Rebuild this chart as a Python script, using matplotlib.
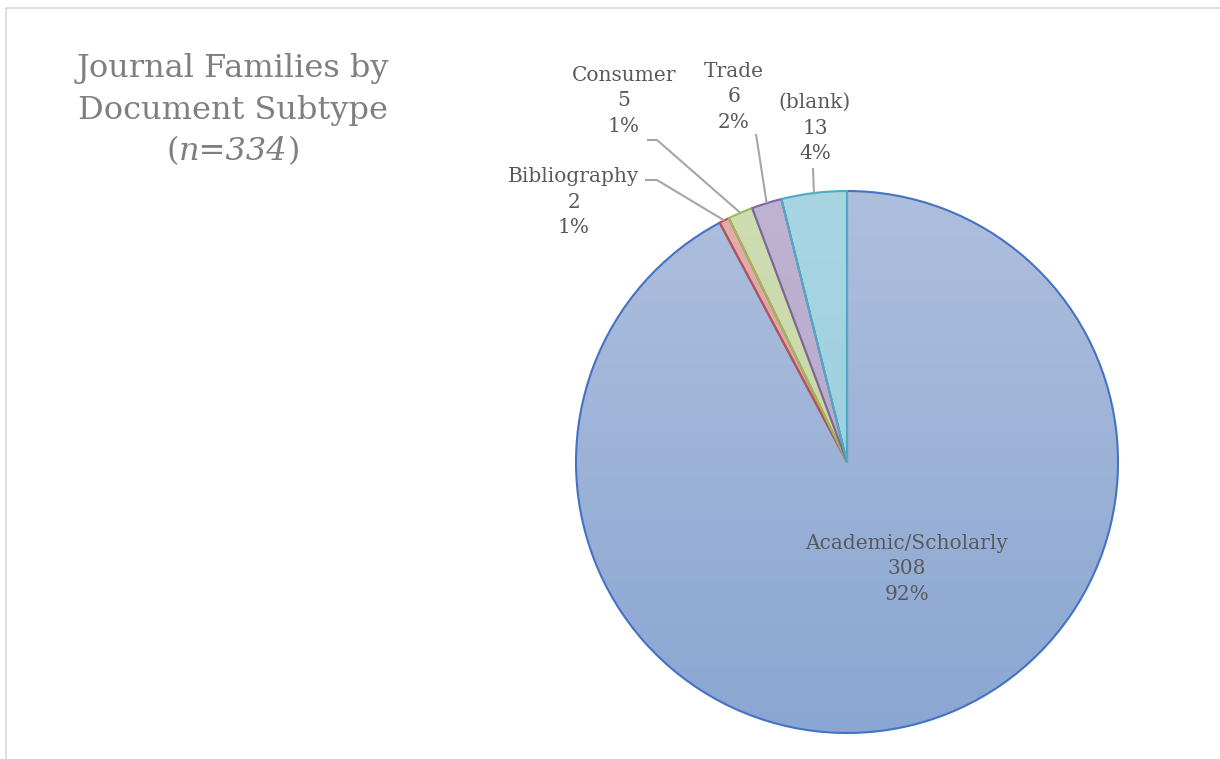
import matplotlib
matplotlib.use("Agg")
import matplotlib.pyplot as plt
import numpy as np
from matplotlib.colors import to_rgb

# ==================== DATA ====================
categories = ["Academic/Scholarly", "Bibliography", "Consumer", "Trade", "(blank)"]
counts = [308, 2, 5, 6, 13]
percent_labels = ["92%", "1%", "1%", "2%", "4%"]
title_lines = ["Journal Families by", "Document Subtype"]
title_n = "n=334"

edge_colors = ["#4472C4", "#C0504D", "#9BBB59", "#8064A2", "#4BACC6"]
top_colors = ["#AEBFDD", "#E3AEAD", "#CFDDB3", "#BFB3D3", "#A9D5E3"]
bottom_colors = ["#8AA6D2", "#D99896", "#C2D69B", "#B2A1C7", "#93CDDD"]

# ==================== LAYOUT (pixels) ====================
W, H = 1220, 759
cx, cy, R = 847, H - 462, 271
# label block centres (x, y in px from top)
label_pos = [(907, 569), (574, 202), (624, 101), (734, 97), (815, 128)]
# elbow point of leader line (px from top); None = straight
elbow = [None, (657, 180), (657, 140), None, None]
leader_start = [None, (645, 180), (647, 140), (756, 134), (813, 168)]

label_color = "#595959"
title_color = "#7F7F7F"
line_color = "#A6A6A6"
serif = "DejaVu Serif"

fig = plt.figure(figsize=(W / 100, H / 100), dpi=100)
ax = fig.add_axes([0, 0, 1, 1])

wedges, _ = ax.pie(counts, startangle=90, counterclock=False, center=(cx, cy),
                   radius=R, wedgeprops=dict(linewidth=1.5))
ax.set_aspect("equal")
ax.axis("off")

# vertical gradient inside each wedge
for w, ec, tc, bc in zip(wedges, edge_colors, top_colors, bottom_colors):
    t = np.linspace(0, 1, 256)[:, None]
    grad = (1 - t) * np.array(to_rgb(tc)) + t * np.array(to_rgb(bc))
    grad = np.repeat(grad[:, None, :], 2, axis=1)
    im = ax.imshow(grad, extent=(cx - R, cx + R, cy - R, cy + R), origin="upper",
                   aspect="auto", zorder=1, interpolation="bilinear")
    im.set_clip_path(w)
    w.set_facecolor("none")
    w.set_edgecolor(ec)
    w.set_zorder(2)

ax.set_xlim(0, W)
ax.set_ylim(0, H)

# labels and leader lines
for i, w in enumerate(wedges):
    lx, ly = label_pos[i]
    ax.text(lx, H - ly, f"{categories[i]}\n{counts[i]}\n{percent_labels[i]}",
            ha="center", va="center", fontsize=14.5, color=label_color,
            family=serif, linespacing=1.42, zorder=5)
    if leader_start[i] is None:
        continue
    mid = np.deg2rad((w.theta1 + w.theta2) / 2)
    ex, ey = cx + R * np.cos(mid), cy + R * np.sin(mid)
    xs = [leader_start[i][0]]
    ys = [H - leader_start[i][1]]
    if elbow[i] is not None:
        xs.append(elbow[i][0])
        ys.append(H - elbow[i][1])
    xs.append(ex)
    ys.append(ey)
    ax.plot(xs, ys, color=line_color, lw=1.5, zorder=3, solid_capstyle="butt")

# title
tx = 233
ax.text(tx, H - 68, title_lines[0], ha="center", va="center", fontsize=23,
        color=title_color, family=serif)
ax.text(tx, H - 110, title_lines[1], ha="center", va="center", fontsize=23,
        color=title_color, family=serif)
renderer = fig.canvas.get_renderer()
parts = [("(", "normal"), (title_n, "italic"), (")", "normal")]
objs = [ax.text(0, H - 152, p, ha="left", va="center", fontsize=23,
                color=title_color, family=serif, style=s) for p, s in parts]
widths = [o.get_window_extent(renderer).width for o in objs]
x0 = tx - sum(widths) / 2
for o, wd in zip(objs, widths):
    o.set_x(x0)
    x0 += wd

# chart area border (top and left visible)
ax.plot([6, 6, W + 5], [-5, H - 8, H - 8], color="#D9D9D9", lw=1.2, zorder=0,
        clip_on=False)

fig.savefig("out.png", dpi=100)
